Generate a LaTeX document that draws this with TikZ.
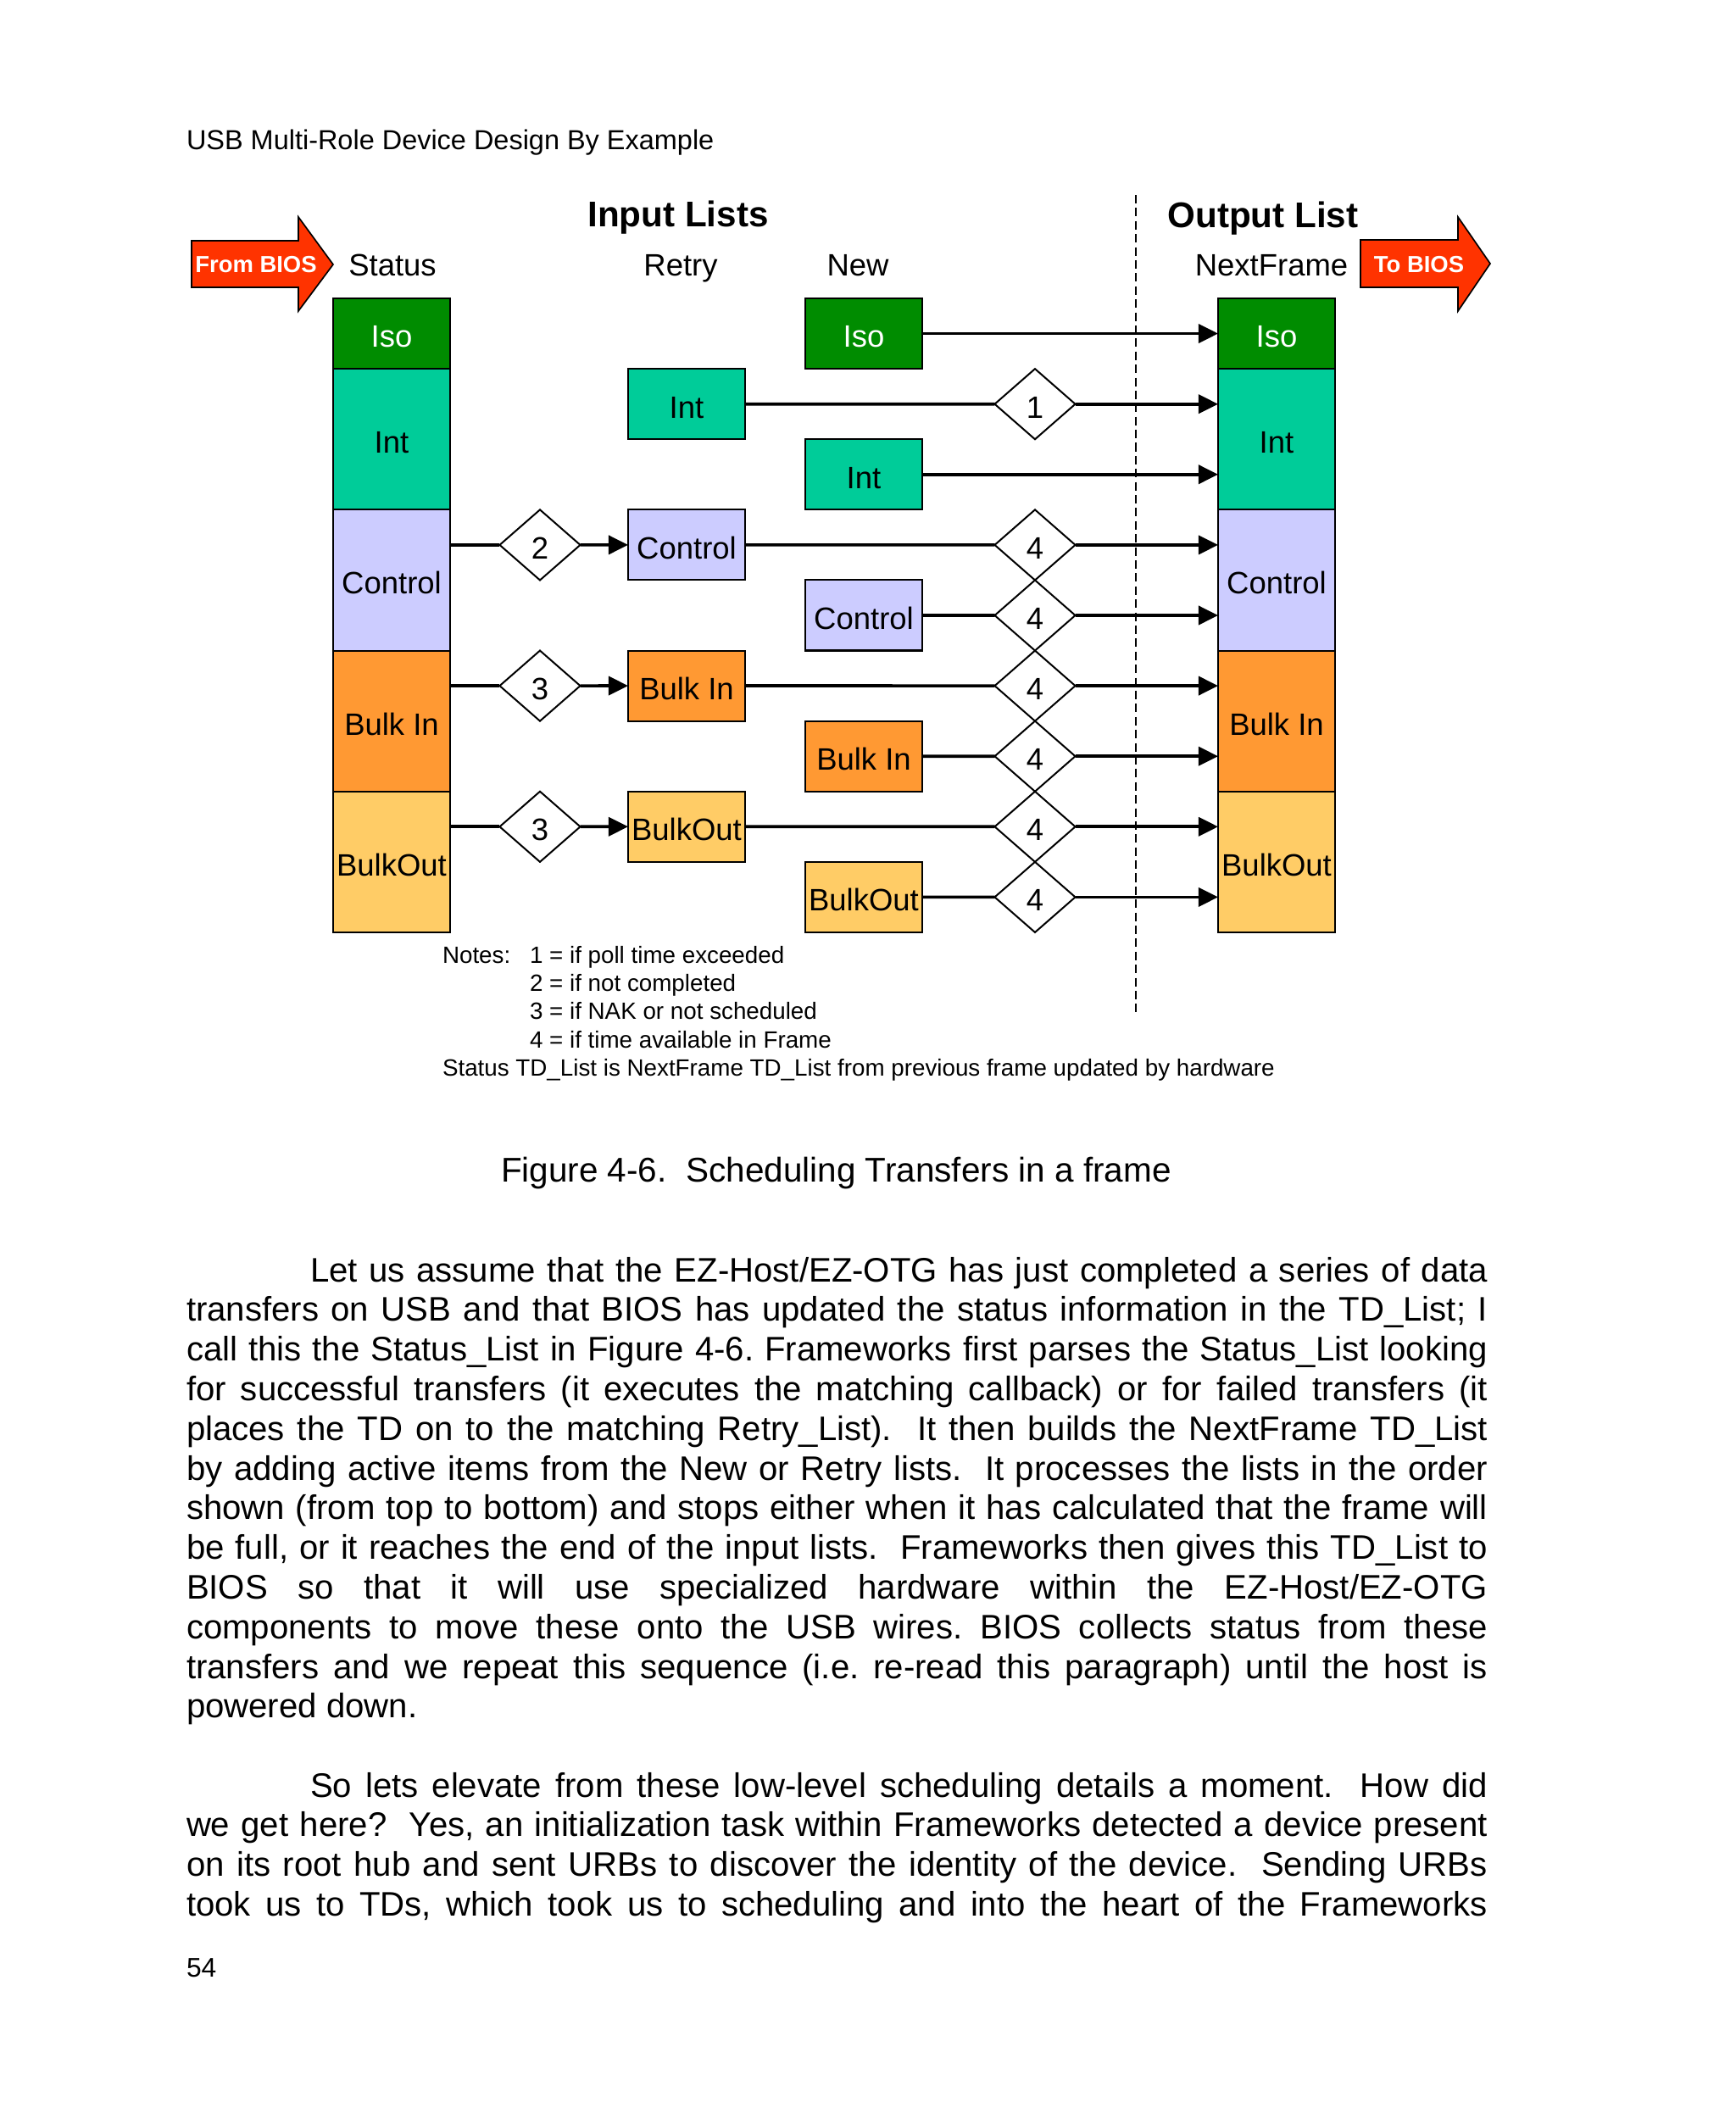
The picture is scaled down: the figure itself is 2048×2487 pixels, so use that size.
\documentclass[tikz,border=0pt]{standalone}
\usepackage{fontspec}
\setmainfont{Liberation Sans}
\usetikzlibrary{arrows.meta,shapes.geometric}
\definecolor{isoC}{RGB}{0,140,0}
\definecolor{intC}{RGB}{0,204,153}
\definecolor{ctlC}{RGB}{204,204,255}
\definecolor{binC}{RGB}{255,153,51}
\definecolor{boutC}{RGB}{255,204,102}
\definecolor{biosC}{RGB}{255,51,0}
\newcommand{\fullline}[1]{\hbox to 458.7pt{#1}}
\newcommand{\indline}[1]{\hbox to 415.1pt{#1}}
\frenchspacing
\begin{document}
\begin{tikzpicture}[x=0.29883pt,y=-0.29883pt,
  lst/.style={draw=black, line width=0.6pt, minimum width=41.24pt, inner sep=0pt, outer sep=0pt, anchor=north west, text height=9.8pt, text depth=0pt, font=\fontsize{10.9}{13}\selectfont},
  one/.style={lst, minimum height=24.83pt},
  two/.style={lst, minimum height=49.67pt},
  dia/.style={diamond, draw=black, line width=0.6pt, fill=white, minimum width=28.4pt, minimum height=24.83pt, inner sep=0pt, outer sep=0pt, text height=9.8pt, text depth=0pt, font=\fontsize{10.9}{13}\selectfont},
  conn/.style={line width=1.1pt},
  arr/.style={conn, -{Triangle[length=6.9pt,width=6.6pt]}},
  txt/.style={inner sep=0pt, outer sep=0pt},
  body/.style={txt, anchor=base west, font=\fontsize{12}{14}\selectfont},
  lbl/.style={txt, anchor=base, font=\fontsize{10.9}{13}\selectfont},
  head/.style={txt, anchor=base, font=\fontsize{12.6}{15}\selectfont\bfseries},
  note/.style={txt, anchor=base west, font=\fontsize{8.3}{10}\selectfont},
  bios/.style={fill=biosC, draw=black, line width=0.5pt},
  biostxt/.style={txt, anchor=base, text=white, font=\fontsize{8.2}{10}\selectfont\bfseries}
]
\useasboundingbox[fill=white] (0,0) rectangle (2048,2487);

% page header
\node[txt, anchor=base west, font=\fontsize{9.7}{12}\selectfont] (hdr) at (220,176) {USB Multi-Role Device Design By Example};

% headings
\node[head] (inlists) at (800,267) {Input Lists};
\node[head] (outlist) at (1490,268) {Output List};
\node[lbl] (hStatus) at (463,325) {Status};
\node[lbl] (hRetry) at (803,325) {Retry};
\node[lbl] (hNew) at (1012,325) {New};
\node[lbl] (hNext) at (1500,325) {NextFrame};

% BIOS arrows
\draw[bios] (226,284) -- (352,284) -- (352,256) -- (393,312) -- (352,367) -- (352,339) -- (226,339) -- cycle;
\node[biostxt] (fromBios) at (302,321) {From BIOS};
\draw[bios] (1605,283) -- (1720,283) -- (1720,256) -- (1758,311) -- (1720,367) -- (1720,339) -- (1605,339) -- cycle;
\node[biostxt] (toBios) at (1674,321) {To BIOS};

% dashed separator
\coordinate (dtop) at (1340,230);
\coordinate (dbot) at (1340,1197);
\draw[line width=0.5pt, dash pattern=on 3pt off 1.6pt] (dtop) -- (dbot);

% Status column
\node[one, fill=isoC, text=white] (sIso) at (393,352) {Iso};
\node[two, fill=intC] (sInt) at (393,435.1) {Int};
\node[two, fill=ctlC] (sCtl) at (393,601.3) {Control};
\node[two, fill=binC] (sBin) at (393,767.5) {Bulk In};
\node[two, fill=boutC] (sBout) at (393,933.7) {BulkOut};

% Retry column
\node[one, fill=intC] (rInt) at (741,435.1) {Int};
\node[one, fill=ctlC] (rCtl) at (741,601.3) {Control};
\node[one, fill=binC] (rBin) at (741,767.5) {Bulk In};
\node[one, fill=boutC] (rBout) at (741,933.7) {BulkOut};

% New column
\node[one, fill=isoC, text=white] (nIso) at (950,352) {Iso};
\node[one, fill=intC] (nInt) at (950,518.2) {Int};
\node[one, fill=ctlC] (nCtl) at (950,684.4) {Control};
\node[one, fill=binC] (nBin) at (950,850.6) {Bulk In};
\node[one, fill=boutC] (nBout) at (950,1016.8) {BulkOut};

% Output column
\node[one, fill=isoC, text=white] (oIso) at (1437,352) {Iso};
\node[two, fill=intC] (oInt) at (1437,435.1) {Int};
\node[two, fill=ctlC] (oCtl) at (1437,601.3) {Control};
\node[two, fill=binC] (oBin) at (1437,767.5) {Bulk In};
\node[two, fill=boutC] (oBout) at (1437,933.7) {BulkOut};

% diamonds
\node[dia] (d1) at (1221,476.7) {1};
\node[dia] (d2) at (637,642.9) {2};
\node[dia] (d3a) at (637,809.1) {3};
\node[dia] (d3b) at (637,975.3) {3};
\node[dia] (d4a) at (1221,642.9) {4};
\node[dia] (d4b) at (1221,726.0) {4};
\node[dia] (d4c) at (1221,809.1) {4};
\node[dia] (d4d) at (1221,892.2) {4};
\node[dia] (d4e) at (1221,975.3) {4};
\node[dia] (d4f) at (1221,1058.4) {4};

% connectors
\draw[arr] (nIso) -- (nIso -| oIso.west);
\draw[conn] (rInt) -- (d1);
\draw[arr] (d1) -- (d1 -| oInt.west);
\draw[arr] (nInt) -- (nInt -| oInt.west);

\draw[conn] (sCtl.east |- d2) -- (d2);
\draw[arr] (d2) -- (rCtl);
\draw[conn] (rCtl) -- (d4a);
\draw[arr] (d4a) -- (d4a -| oCtl.west);
\draw[conn] (nCtl) -- (d4b);
\draw[arr] (d4b) -- (d4b -| oCtl.west);

\draw[conn] (sBin.east |- d3a) -- (d3a);
\draw[arr] (d3a) -- (rBin);
\draw[conn] (rBin) -- (d4c);
\draw[arr] (d4c) -- (d4c -| oBin.west);
\draw[conn] (nBin) -- (d4d);
\draw[arr] (d4d) -- (d4d -| oBin.west);

\draw[conn] (sBout.east |- d3b) -- (d3b);
\draw[arr] (d3b) -- (rBout);
\draw[conn] (rBout) -- (d4e);
\draw[arr] (d4e) -- (d4e -| oBout.west);
\draw[conn] (nBout) -- (d4f);
\draw[arr] (d4f) -- (d4f -| oBout.west);

% notes
\node[note] (notes) at (522,1136) {Notes:};
\node[note] (n1) at (625,1136) {1 = if poll time exceeded};
\node[note] (n2) at (625,1169) {2 = if not completed};
\node[note] (n3) at (625,1202) {3 = if NAK or not scheduled};
\node[note] (n4) at (625,1236) {4 = if time available in Frame};
\node[note] (n5) at (522,1269) {Status TD\_List is NextFrame TD\_List from previous frame updated by hardware};

% caption
\node[body, font=\fontsize{12.1}{14}\selectfont] (cap) at (591,1394) {Figure 4-6.\ \ Scheduling Transfers in a frame};

% paragraph 1
\node[body] (p1a) at (366,1512) {\indline{Let us assume that the EZ-Host/EZ-OTG has just completed a series of data}};
\node[body] (p1b) at (220,1558.8) {\fullline{transfers on USB and that BIOS has updated the status information in the TD\_List; I}};
\node[body] (p1c) at (220,1605.6) {\fullline{call this the Status\_List in Figure 4-6. Frameworks first parses the Status\_List looking}};
\node[body] (p1d) at (220,1652.4) {\fullline{for successful transfers (it executes the matching callback) or for failed transfers (it}};
\node[body] (p1e) at (220,1699.2) {\fullline{places the TD on to the matching Retry\_List).\ \ It then builds the NextFrame TD\_List}};
\node[body] (p1f) at (220,1746) {\fullline{by adding active items from the New or Retry lists.\ \ It processes the lists in the order}};
\node[body] (p1g) at (220,1792.8) {\fullline{shown (from top to bottom) and stops either when it has calculated that the frame will}};
\node[body] (p1h) at (220,1839.6) {\fullline{be full, or it reaches the end of the input lists.\ \ Frameworks then gives this TD\_List to}};
\node[body] (p1i) at (220,1886.4) {\fullline{BIOS so that it will use specialized hardware within the EZ-Host/EZ-OTG}};
\node[body] (p1j) at (220,1933.2) {\fullline{components to move these onto the USB wires. BIOS collects status from these}};
\node[body] (p1k) at (220,1980) {\fullline{transfers and we repeat this sequence (i.e. re-read this paragraph) until the host is}};
\node[body] (p1l) at (220,2026.8) {powered down.};

% paragraph 2
\node[body] (p2a) at (366,2120) {\indline{So lets elevate from these low-level scheduling details a moment.\ \ How did}};
\node[body] (p2b) at (220,2166.8) {\fullline{we get here?\ \ Yes, an initialization task within Frameworks detected a device present}};
\node[body] (p2c) at (220,2213.6) {\fullline{on its root hub and sent URBs to discover the identity of the device.\ \ Sending URBs}};
\node[body] (p2d) at (220,2260.4) {\fullline{took us to TDs, which took us to scheduling and into the heart of the Frameworks}};

% page number
\node[txt, anchor=base west, font=\fontsize{9.5}{12}\selectfont] (pnum) at (220,2332) {54};
\end{tikzpicture}
\end{document}
